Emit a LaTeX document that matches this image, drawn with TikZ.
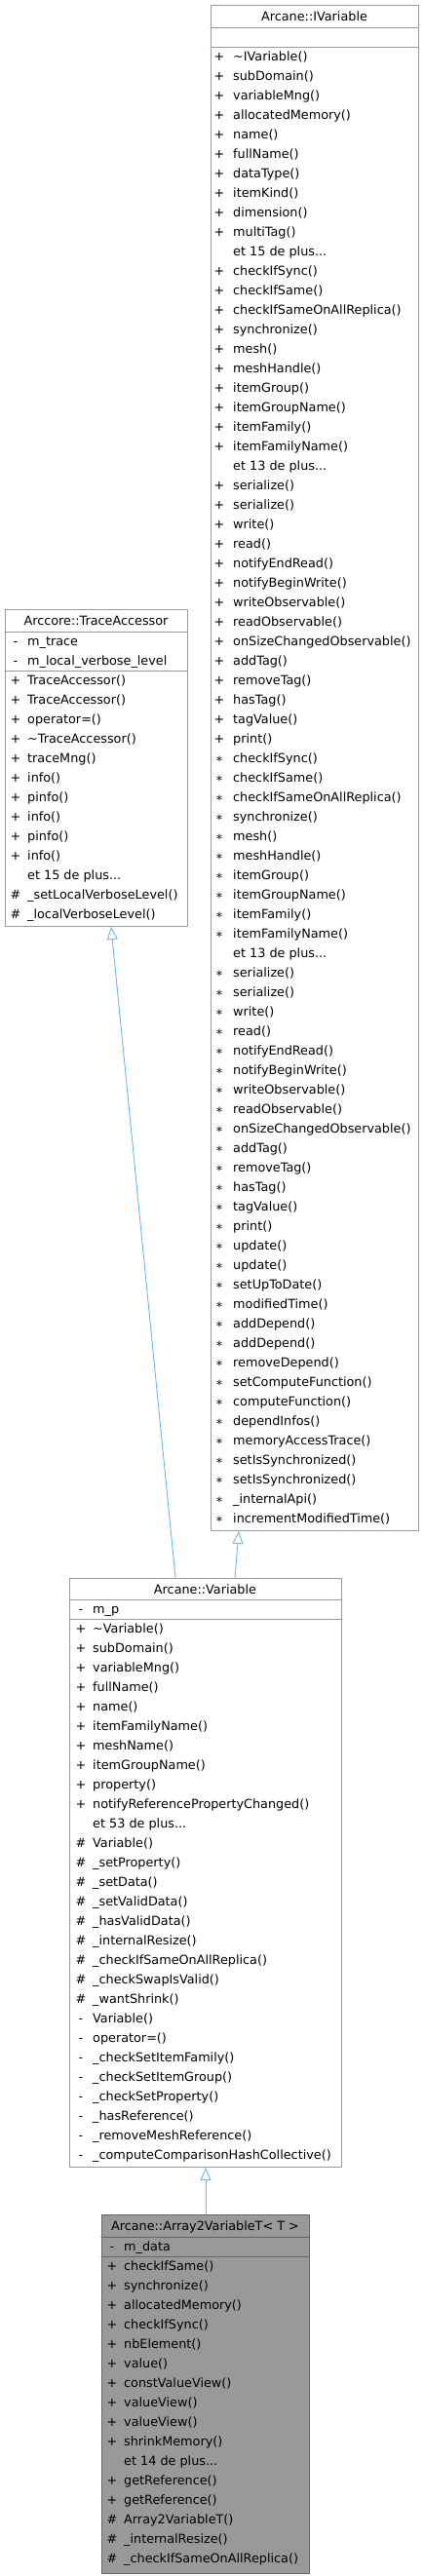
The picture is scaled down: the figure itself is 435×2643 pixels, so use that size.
\documentclass[tikz,border=0pt]{standalone}
\usepackage{fontspec}
\setmainfont{DejaVu Sans}
\usetikzlibrary{arrows.meta}
\definecolor{edgeblue}{HTML}{63B8FF}
\definecolor{boxgray}{HTML}{999999}
\definecolor{rootgray}{HTML}{666666}
\newcommand{\sig}{\raisebox{-3pt}{*}}
\tikzset{
  classbox/.style={draw=boxgray,fill=white,line width=1pt,anchor=north west,inner sep=0pt},
  rootbox/.style={classbox,draw=rootgray,fill=boxgray},
  sep/.style={draw=boxgray,line width=1pt},
  rootsep/.style={draw=rootgray,line width=1pt},
  title/.style={anchor=base,inner sep=0pt},
  vis/.style={anchor=base,inner sep=0pt},
  member/.style={anchor=base west,inner sep=0pt},
  inherit/.style={draw=edgeblue,line width=0.9pt,-{Triangle[open,length=13pt,width=11pt]}}
}
\begin{document}
\begin{tikzpicture}[x=1pt,y=-1pt,font=\fontsize{12.8}{20}\selectfont,line join=round,line cap=round]
\useasboundingbox (0,0) rectangle (435,2643);
% Arcane::IVariable
\node[classbox,minimum width=213pt,minimum height=1565pt] (ivar) at (216,5) {};
\draw[sep] (216,28) -- (429,28) (216,48) -- (429,48);
\node[title] (ivar-t) at (322.5,21) {Arcane::IVariable};
\foreach \v/\m [count=\i] in {
  +/\textasciitilde IVariable(), +/subDomain(), +/variableMng(), +/allocatedMemory(),
  +/name(), +/fullName(), +/dataType(), +/itemKind(), +/dimension(), +/multiTag(),
  {}/{et 15 de plus...}, +/checkIfSync(), +/checkIfSame(), +/checkIfSameOnAllReplica(),
  +/synchronize(), +/mesh(), +/meshHandle(), +/itemGroup(), +/itemGroupName(),
  +/itemFamily(), +/itemFamilyName(), {}/{et 13 de plus...}, +/serialize(), +/serialize(),
  +/write(), +/read(), +/notifyEndRead(), +/notifyBeginWrite(), +/writeObservable(),
  +/readObservable(), +/onSizeChangedObservable(), +/addTag(), +/removeTag(), +/hasTag(),
  +/tagValue(), +/print(), \sig/checkIfSync(), \sig/checkIfSame(), \sig/checkIfSameOnAllReplica(),
  \sig/synchronize(), \sig/mesh(), \sig/meshHandle(), \sig/itemGroup(), \sig/itemGroupName(),
  \sig/itemFamily(), \sig/itemFamilyName(), {}/{et 13 de plus...}, \sig/serialize(), \sig/serialize(),
  \sig/write(), \sig/read(), \sig/notifyEndRead(), \sig/notifyBeginWrite(), \sig/writeObservable(),
  \sig/readObservable(), \sig/onSizeChangedObservable(), \sig/addTag(), \sig/removeTag(), \sig/hasTag(),
  \sig/tagValue(), \sig/print(), \sig/update(), \sig/update(), \sig/setUpToDate(), \sig/modifiedTime(),
  \sig/addDepend(), \sig/addDepend(), \sig/removeDepend(), \sig/setComputeFunction(),
  \sig/computeFunction(), \sig/dependInfos(), \sig/memoryAccessTrace(), \sig/setIsSynchronized(),
  \sig/setIsSynchronized(), \sig/\_internalApi(), \sig/incrementModifiedTime()}
  \node[vis] (ivar-v\i) at (225,48+20*\i-5.5) {\v} node[member] (ivar-\i) at (239,48+20*\i-5.5) {\m};
% Arccore::TraceAccessor
\node[classbox,minimum width=187pt,minimum height=325pt] (trace) at (5,625) {};
\draw[sep] (5,648) -- (192,648) (5,688) -- (192,688);
\node[title] (trace-t) at (98.5,641) {Arccore::TraceAccessor};
\foreach \v/\m [count=\i] in {-/m\_trace, -/m\_local\_verbose\_level}
  \node[vis] (trace-a\i) at (16,648+20*\i-5.5) {\v} node[member] (trace-f\i) at (28,648+20*\i-5.5) {\m};
\foreach \v/\m [count=\i] in {
  +/TraceAccessor(), +/TraceAccessor(), +/operator=(), +/\textasciitilde TraceAccessor(),
  +/traceMng(), +/info(), +/pinfo(), +/info(), +/pinfo(), +/info(), {}/{et 15 de plus...},
  \#/\_setLocalVerboseLevel(), \#/\_localVerboseLevel()}
  \node[vis] (trace-v\i) at (16,688+20*\i-5.5) {\v} node[member] (trace-\i) at (28,688+20*\i-5.5) {\m};
% Arcane::Variable
\node[classbox,minimum width=279pt,minimum height=604pt] (var) at (71,1619) {};
\draw[sep] (71,1641) -- (350,1641) (71,1661) -- (350,1661);
\node[title] (var-t) at (210.5,1635) {Arcane::Variable};
\node[vis] (var-a1) at (83,1655.5) {-} node[member] (var-f1) at (95,1655.5) {m\_p};
\foreach \v/\m [count=\i] in {
  +/\textasciitilde Variable(), +/subDomain(), +/variableMng(), +/fullName(), +/name(),
  +/itemFamilyName(), +/meshName(), +/itemGroupName(), +/property(),
  +/notifyReferencePropertyChanged(), {}/{et 53 de plus...}, \#/Variable(),
  \#/\_setProperty(), \#/\_setData(), \#/\_setValidData(), \#/\_hasValidData(),
  \#/\_internalResize(), \#/\_checkIfSameOnAllReplica(), \#/\_checkSwapIsValid(),
  \#/\_wantShrink(), -/Variable(), -/operator=(), -/\_checkSetItemFamily(),
  -/\_checkSetItemGroup(), -/\_checkSetProperty(), -/\_hasReference(),
  -/\_removeMeshReference(), -/\_computeComparisonHashCollective()}
  \node[vis] (var-v\i) at (83,1661+20*\i-5.5) {\v} node[member] (var-\i) at (95,1661+20*\i-5.5) {\m};
% Arcane::Array2VariableT< T >
\node[rootbox,minimum width=213pt,minimum height=368pt] (arr) at (104,2272) {};
\draw[rootsep] (104,2295) -- (317,2295) (104,2315) -- (317,2315);
\node[title] (arr-t) at (210.5,2288) {Arcane::Array2VariableT< T >};
\node[vis] (arr-a1) at (115,2309.5) {-} node[member] (arr-f1) at (127,2309.5) {m\_data};
\foreach \v/\m [count=\i] in {
  +/checkIfSame(), +/synchronize(), +/allocatedMemory(), +/checkIfSync(), +/nbElement(),
  +/value(), +/constValueView(), +/valueView(), +/valueView(), +/shrinkMemory(),
  {}/{et 14 de plus...}, +/getReference(), +/getReference(), \#/Array2VariableT(),
  \#/\_internalResize(), \#/\_checkIfSameOnAllReplica()}
  \node[vis] (arr-v\i) at (115,2315+20*\i-5.5) {\v} node[member] (arr-\i) at (127,2315+20*\i-5.5) {\m};
% inheritance
\draw[inherit] ([xshift=109pt]var.north west) -- ([xshift=109pt]trace.south west);
\draw[inherit] ([xshift=170pt]var.north west) -- ([xshift=29pt]ivar.south west);
\draw[inherit] (arr.north) -- (var.south);
\end{tikzpicture}
\end{document}
